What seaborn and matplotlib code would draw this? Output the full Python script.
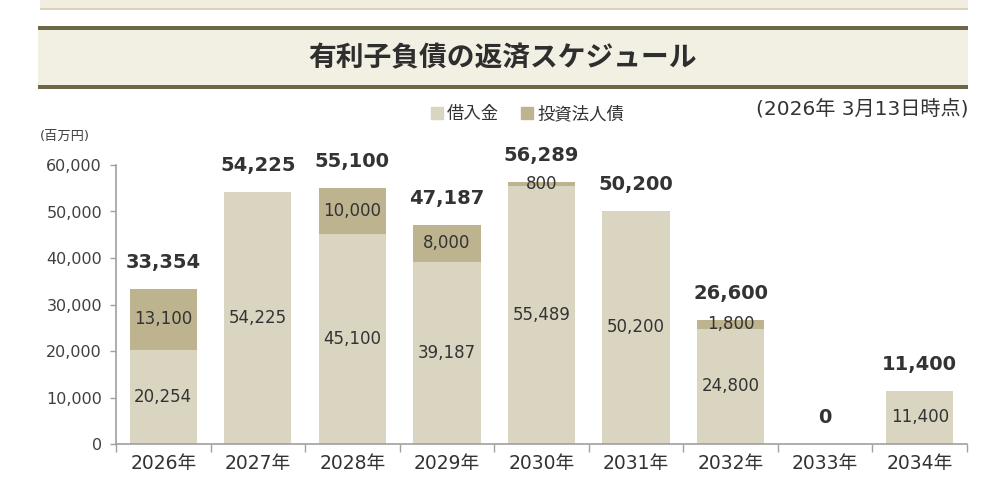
import numpy as np
import pandas as pd
import seaborn as sns
from matplotlib import pyplot as plt
from matplotlib.lines import Line2D
from matplotlib.patches import Rectangle

# data (百万円)
years = ['2026年', '2027年', '2028年', '2029年', '2030年', '2031年', '2032年', '2033年', '2034年']
loans = [20254, 54225, 45100, 39187, 55489, 50200, 24800, 0, 11400]
bonds = [13100, 0, 10000, 8000, 800, 0, 1800, 0, 0]

light = '#DAD5C1'
dark = '#BDB38F'
line_col = '#6B6748'
band_col = '#F2EFE3'

sns.set_theme(style='white')
# DejaVu for the Verdana-like digits, Noto CJK for the Japanese characters
plt.rcParams['font.family'] = ['DejaVu Sans', 'Noto Sans CJK JP']

df = pd.DataFrame({'year': years, 'loans': loans, 'bonds': bonds})
df['total'] = df['loans'] + df['bonds']

fig = plt.figure(figsize=(10, 4.94), dpi=100)
ax = fig.add_axes([0.116, 1 - 444 / 494, 0.851, 279 / 494])

# stacked look: totals in the dark colour, loans drawn over them
sns.barplot(data=df, x='year', y='total', color=dark, saturation=1, width=0.71,
            linewidth=0, edgecolor='none', ax=ax)
sns.barplot(data=df, x='year', y='loans', color=light, saturation=1, width=0.71,
            linewidth=0, edgecolor='none', ax=ax)

ax.set_ylim(0, 60000)
ax.set_xlim(-0.5, len(years) - 0.5)
ax.set_yticks(np.arange(0, 60001, 10000))
ax.set_yticklabels([f'{v:,}' for v in range(0, 60001, 10000)], fontsize=11.5, color='#404040')
ax.tick_params(axis='x', length=0, labelsize=13.5, labelcolor='#333333', pad=7)
ax.tick_params(axis='y', left=True, length=4, width=1, color='#A0A0A0', pad=6)
ax.set_xticks(np.arange(-0.5, len(years), 1), minor=True)
ax.tick_params(axis='x', which='minor', bottom=True, length=6, width=1, color='#A0A0A0')
ax.set_xlabel('')
ax.set_ylabel('')
for s in ['top', 'right']:
    ax.spines[s].set_visible(False)
for s in ['left', 'bottom']:
    ax.spines[s].set_color('#A0A0A0')
    ax.spines[s].set_linewidth(1.2)

# segment labels and totals
for i, row in df.iterrows():
    if row['loans'] > 0:
        ax.text(i, row['loans'] / 2, f"{row['loans']:,}", ha='center', va='center',
                fontsize=12, color='#333333')
    if row['bonds'] > 0:
        ax.text(i, row['loans'] + row['bonds'] / 2, f"{row['bonds']:,}", ha='center', va='center',
                fontsize=12, color='#333333')
    ax.annotate(f"{row['total']:,}", (i, row['total']), xytext=(0, 19), textcoords='offset points',
                ha='center', va='center', fontsize=14, fontweight='bold', color='#333333')

# header decorations
fig.patches.append(Rectangle((0.040, 1 - 9 / 494), 0.928, 9 / 494, transform=fig.transFigure,
                             facecolor='#F1EDDF', edgecolor='none'))
fig.patches.append(Rectangle((0.040, 1 - 10 / 494), 0.928, 1.5 / 494, transform=fig.transFigure,
                             facecolor='#D8D2BC', edgecolor='none'))
fig.patches.append(Rectangle((0.038, 1 - 86 / 494), 0.930, 57 / 494, transform=fig.transFigure,
                             facecolor=band_col, edgecolor='none'))
fig.patches.append(Rectangle((0.038, 1 - 30 / 494), 0.930, 4 / 494, transform=fig.transFigure,
                             facecolor=line_col, edgecolor='none'))
fig.patches.append(Rectangle((0.038, 1 - 89 / 494), 0.930, 4 / 494, transform=fig.transFigure,
                             facecolor=line_col, edgecolor='none'))
fig.text(0.503, 1 - 58 / 494, '有利子負債の返済スケジュール', ha='center', va='center',
         fontsize=20, fontweight='bold', color='#2E2E2E', family='Noto Sans CJK JP')

handles = [Line2D([], [], marker='s', linestyle='none', markersize=8, color=light),
           Line2D([], [], marker='s', linestyle='none', markersize=8, color=dark)]
fig.legend(handles, ['借入金', '投資法人債'], loc='center', bbox_to_anchor=(0.527, 1 - 114 / 494),
           ncol=2, frameon=False, fontsize=12.5, handlelength=0.8, handletextpad=0.2,
           columnspacing=1.2, labelcolor='#333333')
fig.text(0.968, 1 - 109 / 494, '(2026年 3月13日時点)', ha='right', va='center',
         fontsize=14.5, color='#333333')
fig.text(0.040, 1 - 136 / 494, '(百万円)', ha='left', va='center', fontsize=9.5, color='#404040')

fig.savefig('out.png', dpi=100, facecolor='white')
